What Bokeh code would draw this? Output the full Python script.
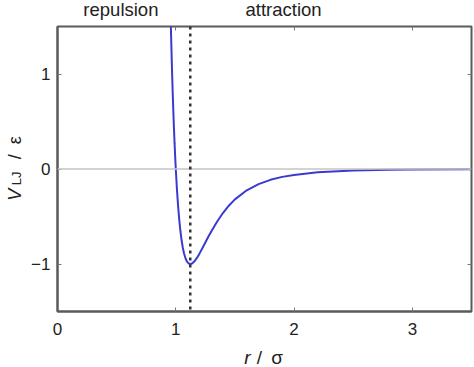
import math
from bokeh.plotting import figure
from bokeh.layouts import column, row
from bokeh.models import Range1d, FixedTicker, LinearAxis, Span, Label
from bokeh.embed import file_html
from bokeh.resources import INLINE

# Lennard-Jones curve (r / sigma, V / epsilon)
r_vals = [0.955, 0.96, 0.965, 0.97, 0.975, 0.98, 0.985, 0.99, 0.995, 1.00,
          1.01, 1.02, 1.03, 1.04, 1.05, 1.06, 1.07, 1.08, 1.09, 1.10,
          1.11, 1.12, 1.125, 1.13, 1.14, 1.16, 1.18, 1.20, 1.22, 1.25,
          1.275, 1.30, 1.35, 1.40, 1.45, 1.50, 1.60, 1.70, 1.80, 1.90,
          2.00, 2.20, 2.50, 2.80, 3.00, 3.50]
v_vals = [1.678, 1.418, 1.181, 0.963, 0.764, 0.582, 0.416, 0.264, 0.126, 0.0,
          -0.218, -0.398, -0.544, -0.663, -0.758, -0.832, -0.889, -0.932, -0.963, -0.983,
          -0.995, -1.000, -1.000, -0.998, -0.992, -0.968, -0.933, -0.891, -0.845, -0.774,
          -0.714, -0.657, -0.552, -0.461, -0.384, -0.320, -0.224, -0.159, -0.114, -0.083,
          -0.062, -0.035, -0.016, -0.008, -0.005, -0.002]
r_min = 1.1225

x_ticks = [0, 1, 2, 3]
x_tick_labels = ["0", "1", "2", "3"]
y_ticks = [-1, 0, 1]
y_tick_labels = ["\u22121", "0", "1"]
region_names = ["repulsion", "attraction"]
region_x = [0.536, 1.911]

FONT = "Liberation Sans"
AX = "#5a5a5a"
TXT = "#222222"
SHIFT = 5                          # baseline correction observed for Label text

X0, X1 = 0.0, 3.5
FRAME_W, FRAME_H = 414, 285
FRAME_LEFT, FRAME_TOP = 57, 26     # page position of the frame
KX = FRAME_W / (X1 - X0)
LEFT_W = 26
TOP_H = 22
BOT_TOP = 338
BOT_H = 367 - BOT_TOP
MAIN_W = 474 - LEFT_W
MAIN_H = BOT_TOP - TOP_H

def blank(w, h, xr, yr):
    f = figure(width=w, height=h, output_backend="svg", toolbar_location=None,
               x_range=xr, y_range=yr, x_axis_location=None, y_axis_location=None,
               min_border=0, min_border_left=0, min_border_right=0,
               min_border_top=0, min_border_bottom=0)
    f.grid.visible = False
    f.outline_line_color = None
    f.background_fill_color = "white"
    f.border_fill_color = "white"
    return f

# ---------------- main plot ----------------
bl = FRAME_LEFT - LEFT_W
bt = FRAME_TOP - TOP_H
p = figure(width=MAIN_W, height=MAIN_H, output_backend="svg", toolbar_location=None,
           x_range=Range1d(X0, X1), y_range=Range1d(-1.5, 1.5),
           min_border_left=bl, min_border_right=MAIN_W - bl - FRAME_W,
           min_border_top=bt, min_border_bottom=MAIN_H - bt - FRAME_H)
p.grid.visible = False
p.background_fill_color = "white"
p.border_fill_color = "white"
p.outline_line_color = AX
p.outline_line_width = 2

def style_axis(ax, ticks, labels):
    ax.ticker = FixedTicker(ticks=ticks)
    ax.major_label_overrides = {t: l for t, l in zip(ticks, labels)}
    ax.major_tick_in = 4
    ax.major_tick_out = 0
    ax.major_tick_line_color = "#777777"
    ax.minor_tick_line_color = None
    ax.axis_line_color = AX
    ax.axis_line_width = 2
    ax.major_label_text_font = FONT
    ax.major_label_text_font_size = "17px"
    ax.major_label_text_color = TXT
    ax.axis_label = None

style_axis(p.xaxis[0], x_ticks, x_tick_labels)
p.xaxis[0].major_label_standoff = 11
style_axis(p.yaxis[0], y_ticks, y_tick_labels)
p.yaxis[0].major_label_standoff = 7

def tick_only_axis(ticks):
    ax = LinearAxis(ticker=FixedTicker(ticks=[], minor_ticks=ticks))
    ax.axis_line_color = None
    ax.major_tick_line_color = None
    ax.minor_tick_in = 4
    ax.minor_tick_out = 0
    ax.minor_tick_line_color = "#777777"
    ax.major_label_standoff = 0
    ax.axis_label = None
    return ax

p.add_layout(tick_only_axis(x_ticks), "above")
p.add_layout(tick_only_axis(y_ticks), "right")

p.add_layout(Span(location=0, dimension="width", line_color="#c4c4c4", line_width=1.5))
p.line(r_vals, v_vals, line_color="#3a3ad0", line_width=2)
p.add_layout(Span(location=r_min, dimension="height", line_color="#333333",
                  line_width=2.5, line_dash="3 4"))

# ---------------- top strip: region labels ----------------
top = blank(474, TOP_H,
            Range1d(X0 - FRAME_LEFT / KX, X0 + (474 - FRAME_LEFT) / KX),
            Range1d(0, TOP_H))
for name, xv in zip(region_names, region_x):
    top.add_layout(Label(x=xv, y=TOP_H - (13.5 - SHIFT), text=name, text_align="center",
                         text_baseline="alphabetic", text_font=FONT,
                         text_font_size="18.5px", text_color=TXT))

# ---------------- left strip: y label ----------------
yl = blank(LEFT_W, MAIN_H, Range1d(0, LEFT_W), Range1d(0, MAIN_H))
ang = math.pi / 2
def ylab(text, page_y, page_x, size, style="normal"):
    yl.add_layout(Label(x=page_x - SHIFT, y=TOP_H + MAIN_H - page_y, text=text, angle=ang,
                        text_align="center", text_baseline="alphabetic",
                        text_font=FONT, text_font_size=size, text_font_style=style,
                        text_color=TXT))
ylab("V", 208.5, 19, "18px", "italic")
ylab("LJ", 190.5, 20.5, "13px")
ylab("/", 166.5, 19, "18px")
ylab("\u03b5", 148, 19, "18px")

# ---------------- bottom strip: x label ----------------
xl = blank(474, BOT_H, Range1d(0, 474), Range1d(0, BOT_H))
def xlab(text, page_x, style="normal"):
    xl.add_layout(Label(x=page_x, y=367 - (362 - SHIFT), text=text,
                        text_align="center", text_baseline="alphabetic",
                        text_font=FONT, text_font_size="19px", text_font_style=style,
                        text_color=TXT))
xlab("r", 247, "italic")
xlab("/", 259)
xlab("\u03c3", 276.5)

layout = column(top, row(yl, p, spacing=0), xl, spacing=0)
open("out.html", "w").write(file_html(layout, INLINE))
